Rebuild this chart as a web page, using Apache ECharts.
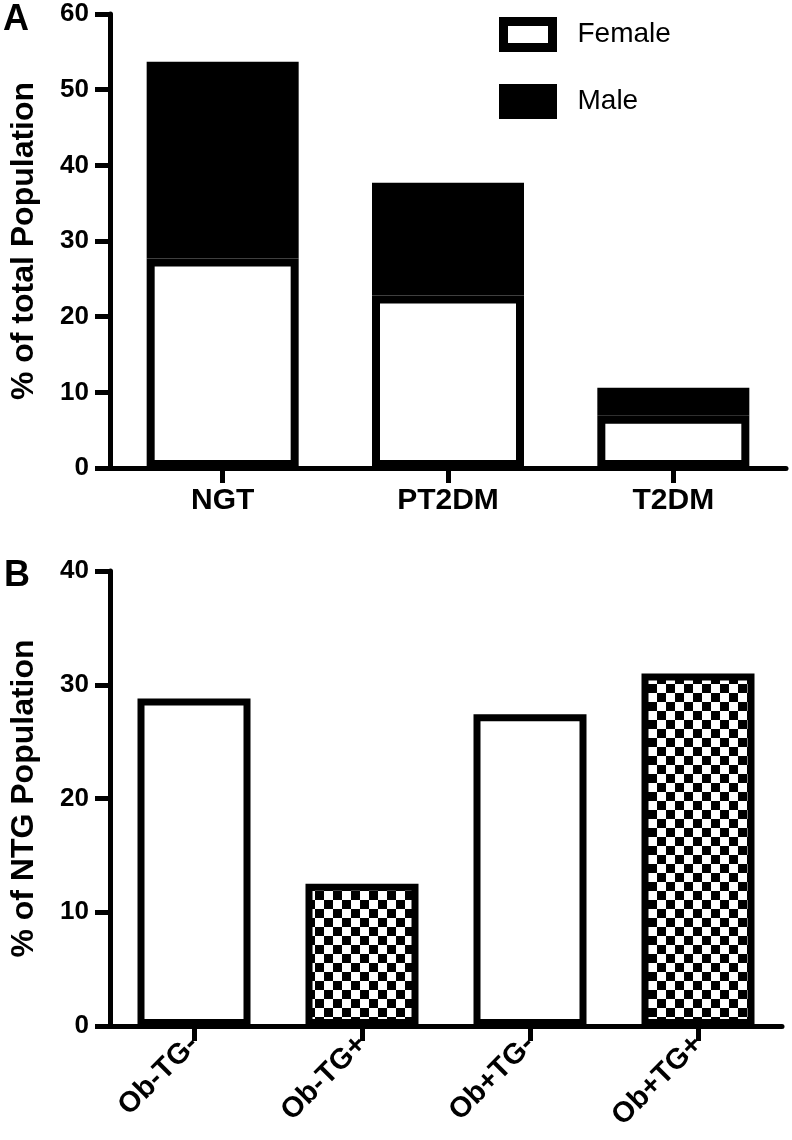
<!DOCTYPE html>
<html>
<head>
<meta charset="utf-8">
<script src="https://cdn.jsdelivr.net/npm/echarts@6/dist/echarts.min.js"></script>
<style>
  html, body { margin: 0; padding: 0; background: #fff; }
  #chart { width: 792px; height: 1140px; }
</style>
</head>
<body>
<div id="chart"></div>
<script>
// ---- Data (panel A) ----
const categoriesA = ['NGT', 'PT2DM', 'T2DM'];
const femaleA = [27.7, 22.8, 6.9];
const maleA = [26.0, 14.9, 3.7];
const yMaxA = 60;
const yStepA = 10;

// ---- Data (panel B) ----
const categoriesB = ['Ob-TG-', 'Ob-TG+', 'Ob+TG-', 'Ob+TG+'];
const valuesB = [28.8, 12.5, 27.4, 31.0];
const yMaxB = 40;
const yStepB = 10;

// checkerboard pattern for TG+ bars
const cell = 9;
const pc = document.createElement('canvas');
pc.width = cell * 2; pc.height = cell * 2;
const pctx = pc.getContext('2d');
pctx.fillStyle = '#fff'; pctx.fillRect(0, 0, cell * 2, cell * 2);
pctx.fillStyle = '#000';
pctx.fillRect(0, 0, cell, cell);
pctx.fillRect(cell, cell, cell, cell);
const checker = { image: pc, repeat: 'repeat' };

const FONT = 'Liberation Sans, Arial, sans-serif';
const axisLine = { show: true, lineStyle: { color: '#000', width: 5 } };
const axisTickY = { show: true, length: 15, lineStyle: { color: '#000', width: 5 } };
const boldText = (size) => ({ fontFamily: FONT, fontWeight: 'bold', fontSize: size, color: '#000' });

const chart = echarts.init(document.getElementById('chart'), null, { renderer: 'canvas' });
chart.setOption({
  animation: false,
  backgroundColor: '#fff',
  title: [
    { text: 'A', left: 3, top: 2, padding: 0, textStyle: boldText(36) },
    { text: 'B', left: 4, top: 558, padding: 0, textStyle: boldText(36) }
  ],
  legend: {
    orient: 'vertical',
    left: 499, top: 17, padding: 0,
    itemWidth: 49, itemHeight: 26, itemGap: 32,
    textStyle: { fontFamily: FONT, fontSize: 28, color: '#000', padding: [0, 0, 0, 20] },
    data: [
      { name: 'Female', icon: 'rect', itemStyle: { color: '#fff', borderColor: '#000', borderWidth: 9 } },
      { name: 'Male', icon: 'rect', itemStyle: { color: '#000', borderColor: '#000', borderWidth: 9 } }
    ]
  },
  grid: [
    { left: 103, right: 6, top: 14, bottom: 1140 - 468 },
    { left: 102, right: 10, top: 571, bottom: 1140 - 1026 }
  ],
  xAxis: [
    {
      gridIndex: 0, type: 'category', data: categoriesA,
      axisLine: axisLine,
      axisTick: { show: true, alignWithLabel: true, length: 15, lineStyle: { color: '#000', width: 5 } },
      axisLabel: Object.assign(boldText(30), { margin: 18 })
    },
    {
      gridIndex: 1, type: 'category', data: categoriesB,
      axisLine: axisLine,
      axisTick: { show: true, alignWithLabel: true, length: 15, lineStyle: { color: '#000', width: 5 } },
      axisLabel: Object.assign(boldText(29), { margin: 14, rotate: 45 })
    }
  ],
  yAxis: [
    {
      gridIndex: 0, type: 'value', min: 0, max: yMaxA, interval: yStepA,
      name: '% of total Population', nameLocation: 'middle', nameGap: 70, nameRotate: 90,
      nameTextStyle: boldText(32),
      axisLine: axisLine, axisTick: axisTickY, splitLine: { show: false },
      axisLabel: Object.assign(boldText(26), { margin: 21 })
    },
    {
      gridIndex: 1, type: 'value', min: 0, max: yMaxB, interval: yStepB,
      name: '% of NTG Population', nameLocation: 'middle', nameGap: 70, nameRotate: 90,
      nameTextStyle: boldText(32),
      axisLine: axisLine, axisTick: axisTickY, splitLine: { show: false },
      axisLabel: Object.assign(boldText(26), { margin: 21 })
    }
  ],
  series: [
    {
      name: 'Female', type: 'bar', xAxisIndex: 0, yAxisIndex: 0, stack: 'A',
      barWidth: 152, data: femaleA,
      itemStyle: { color: '#fff', borderColor: '#000', borderWidth: 8 }
    },
    {
      name: 'Male', type: 'bar', xAxisIndex: 0, yAxisIndex: 0, stack: 'A',
      barWidth: 152, data: maleA,
      itemStyle: { color: '#000', borderColor: '#000', borderWidth: 8 }
    },
    {
      name: 'NTG', type: 'bar', xAxisIndex: 1, yAxisIndex: 1,
      barWidth: 113,
      data: valuesB.map((v, i) => ({
        value: v,
        itemStyle: { color: categoriesB[i].indexOf('TG+') >= 0 ? checker : '#fff' }
      })),
      itemStyle: { borderColor: '#000', borderWidth: 7 }
    }
  ]
});
</script>
</body>
</html>
